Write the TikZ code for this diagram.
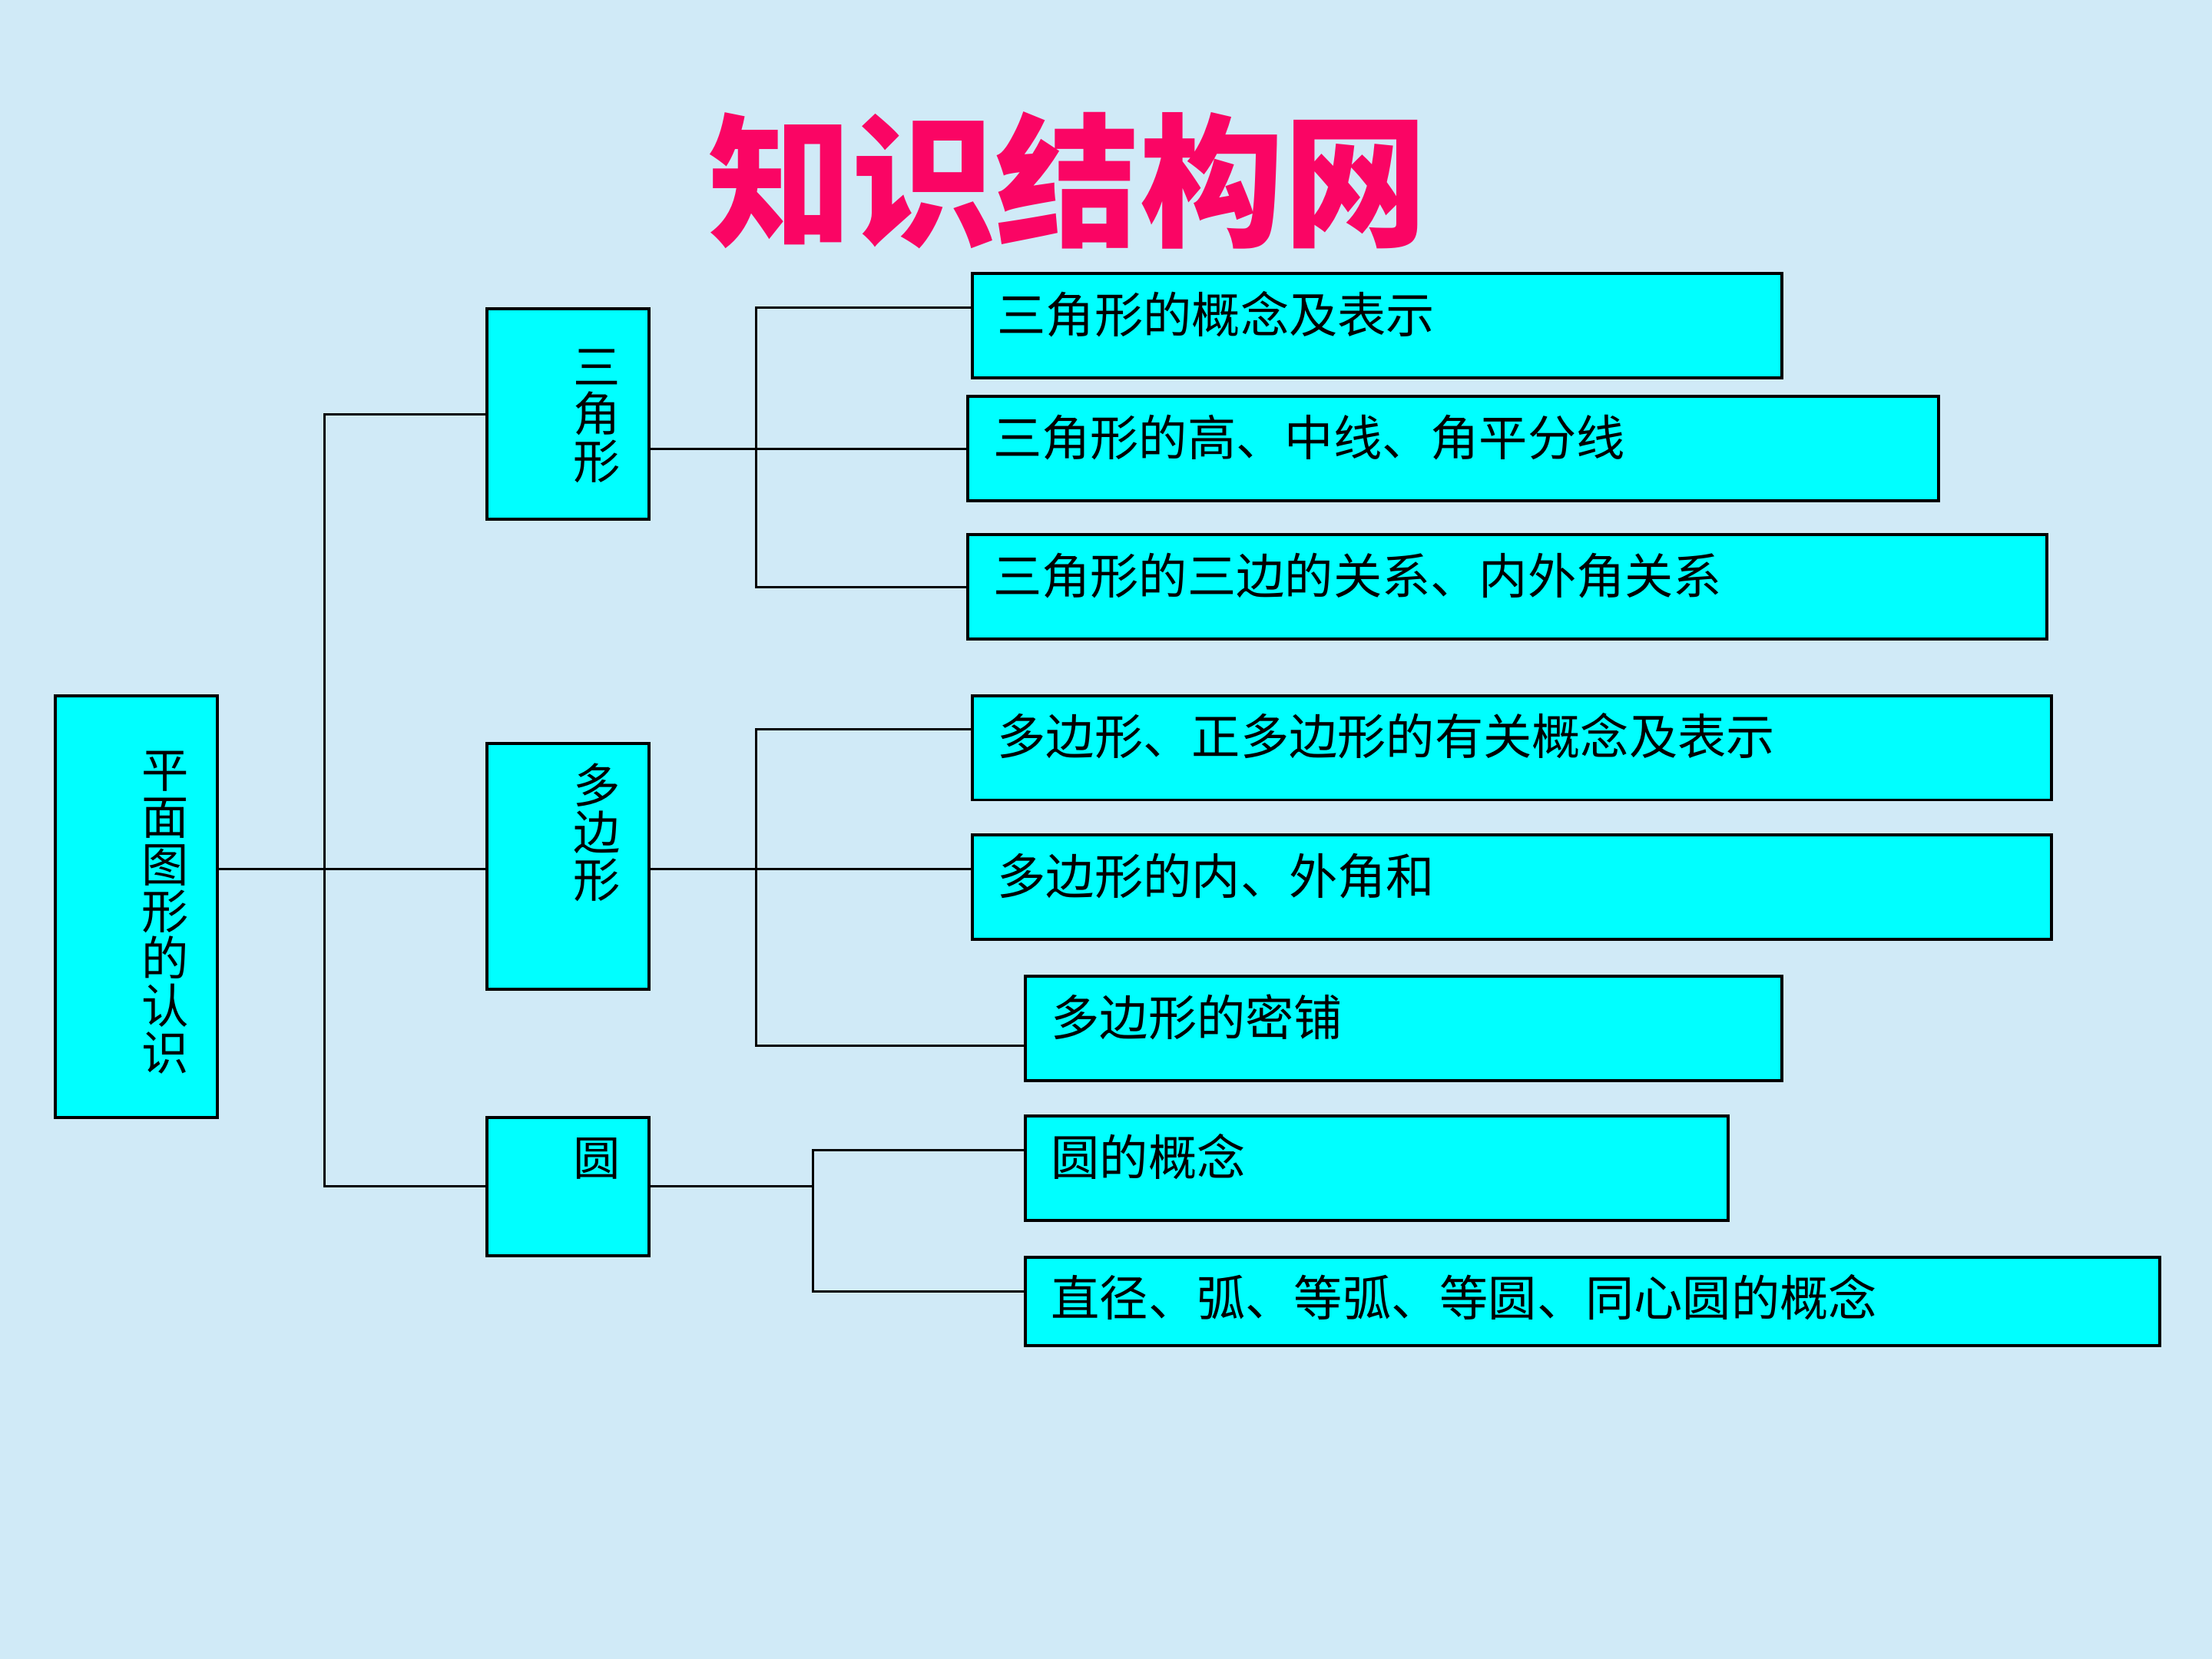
\documentclass[tikz,border=0pt]{standalone}
\usepackage{fontspec}
\newfontfamily\cjk{Noto Sans CJK SC}
\usepackage{xcolor}
\usepackage{tikz}
\usetikzlibrary{calc}

\definecolor{bgblue}{RGB}{208,234,247}
\definecolor{boxcyan}{RGB}{0,255,255}
\definecolor{titlered}{RGB}{250,5,100}

\begin{document}
\begin{tikzpicture}[
    hub/.style={draw, line width=0.6pt, fill=boxcyan, anchor=north west, minimum width=1.15cm, inner sep=0pt},
    vtext/.style={align=center, inner sep=0pt, font=\cjk\fontsize{9.5pt}{9.5pt}\selectfont},
    leaf/.style={draw, line width=0.6pt, fill=boxcyan, anchor=north west, align=left,
        inner xsep=1.8mm, inner ysep=0pt, text height=4.2mm, text depth=3.2mm,
        font=\cjk\fontsize{9.8pt}{11pt}\selectfont},
    link/.style={line width=0.45pt},
]
    \fill[bgblue] (0,0) rectangle (15.68,11.76);
    \useasboundingbox (0,0) rectangle (15.68,11.76);

    \node[font=\cjk\bfseries\fontsize{29pt}{29pt}\selectfont, text=titlered] (title) at (7.57, 10.48) {知识结构网};

    % first two levels
    \node[hub, minimum height=2.99cm] (root) at (0.38, 6.84) {};
    \node[hub, minimum height=1.49cm] (tri) at (3.44, 9.58) {};
    \node[hub, minimum height=1.74cm] (poly) at (3.44, 6.50) {};
    \node[hub, minimum height=0.98cm] (circ) at (3.44, 3.85) {};

    \node[vtext] (rootlbl) at (1.17, 5.29) {平\\面\\图\\形\\的\\认\\识};
    \node[vtext] (trilbl) at (4.23, 8.81) {三\\角\\形};
    \node[vtext] (polylbl) at (4.23, 5.86) {多\\边\\形};
    \node[vtext] (circlbl) at (4.23, 3.55) {圆};

    % leaves
    \node[leaf, text width=5.38cm] (t1) at (6.88, 9.83) {三角形的概念及表示};
    \node[leaf, text width=6.52cm] (t2) at (6.85, 8.96) {三角形的高、中线、角平分线};
    \node[leaf, text width=7.29cm] (t3) at (6.85, 7.98) {三角形的三边的关系、内外角关系};
    \node[leaf, text width=7.29cm] (p1) at (6.88, 6.84) {多边形、正多边形的有关概念及表示};
    \node[leaf, text width=7.29cm] (p2) at (6.88, 5.85) {多边形的内、外角和};
    \node[leaf, text width=5.00cm] (p3) at (7.26, 4.85) {多边形的密铺};
    \node[leaf, text width=4.62cm] (c1) at (7.26, 3.86) {圆的概念};
    \node[leaf, text width=7.68cm, text depth=2.1mm] (c2) at (7.26, 2.86) {直径、弧、等弧、等圆、同心圆的概念};

    \coordinate (t1in) at ($(t1.north west)!.33!(t1.south west)$);
    \coordinate (p1in) at ($(p1.north west)!.33!(p1.south west)$);
    \coordinate (p2in) at ($(p2.north west)!.33!(p2.south west)$);
    \coordinate (p3in) at ($(p3.north west)!.66!(p3.south west)$);
    \coordinate (c1in) at ($(c1.north west)!.33!(c1.south west)$);
    \coordinate (c2in) at ($(c2.north west)!.39!(c2.south west)$);

    \coordinate (j0) at (2.30, 5.60);
    \coordinate (j1) at (5.36, 8.58);
    \coordinate (j2) at (5.36, 5.60);
    \coordinate (j3) at ($(circ.east)+(1.15,0)$);

    \draw[link] (root.east |- p2in) -- (poly.west |- p2in);
    \draw[link] (tri.west) -| (j0) |- (circ.west);

    \draw[link] (tri.east |- t2.west) -- (t2.west);
    \draw[link] (t1in) -| (j1) |- (t3.west);

    \draw[link] (poly.east |- p2in) -- (p2in);
    \draw[link] (p1in) -| (j2) |- (p3in);

    \draw[link] (circ.east) -- (j3);
    \draw[link] (c1in) -| (j3) |- (c2in);
\end{tikzpicture}
\end{document}
